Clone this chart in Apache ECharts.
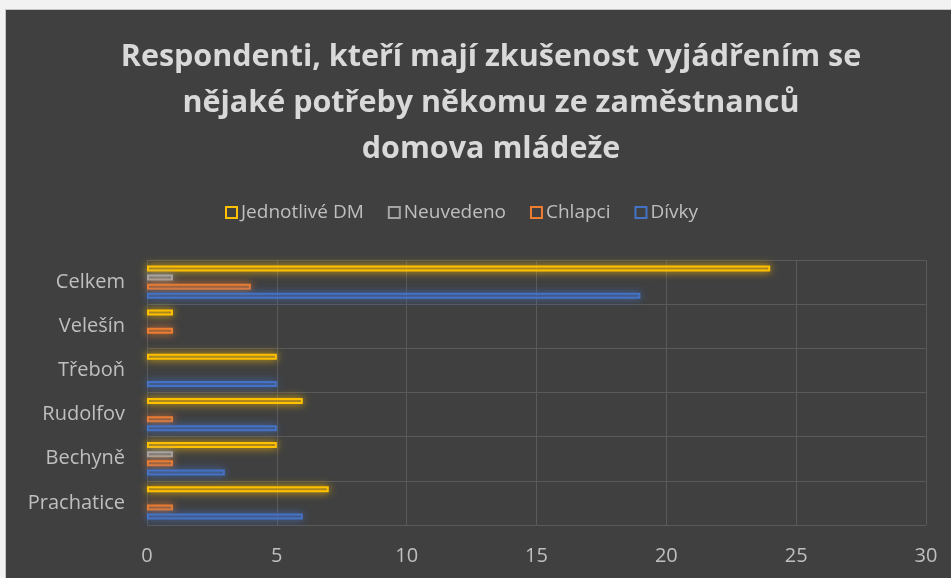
<!DOCTYPE html>
<html>
<head>
<meta charset="utf-8">
<script src="https://cdn.jsdelivr.net/npm/echarts@6/dist/echarts.min.js"></script>
<style>
  html, body { margin: 0; padding: 0; background: #f2f2f2; }
  #chart {
    position: absolute; left: 5px; top: 9px; width: 946px; height: 569px;
    border-left: 1px solid #c6c6c6; border-top: 1px solid #c6c6c6;
    background: #404040;
  }
</style>
</head>
<body>
<div id="chart"></div>
<script>
// kategorie zdola nahoru (jako v Excelu)
const categories = ["Prachatice", "Bechyně", "Rudolfov", "Třeboň", "Velešín", "Celkem"];
const jednotliveDM = [7, 5, 6, 5, 1, 24];
const neuvedeno = [0, 1, 0, 0, 0, 1];
const chlapci = [1, 1, 1, 0, 1, 4];
const divky = [6, 3, 5, 5, 0, 19];
const xTicks = [0, 5, 10, 15, 20, 25, 30];

const titleText = "Respondenti, kteří mají zkušenost vyjádřením se\nnějaké potřeby někomu ze zaměstnanců\ndomova mládeže";
const font = "'Open Sans', 'Noto Sans', sans-serif";

// barvy Office, pořadí shora dolů v každé skupině
const seriesDefs = [
  { name: "Jednotlivé DM", data: jednotliveDM, rgb: "255,192,0" },
  { name: "Neuvedeno", data: neuvedeno, rgb: "165,165,165" },
  { name: "Chlapci", data: chlapci, rgb: "237,125,49" },
  { name: "Dívky", data: divky, rgb: "68,114,196" },
];

const chart = echarts.init(document.getElementById("chart"));

const option = {
  backgroundColor: "#404040",
  animation: false,
  title: {
    text: titleText,
    left: 480,
    top: 19,
    textAlign: "center",
    textStyle: {
      color: "#d9d9d9",
      fontFamily: font,
      fontWeight: "bold",
      fontSize: 30.5,
      lineHeight: 46,
    },
  },
  legend: {
    top: 188,
    left: 214,
    itemWidth: 11,
    itemHeight: 11,
    itemGap: 24,
    icon: "rect",
    data: seriesDefs.map((s) => ({
      name: s.name,
      itemStyle: {
        color: "transparent",
        borderColor: "rgb(" + s.rgb + ")",
        borderWidth: 2,
        shadowBlur: 0,
      },
    })),
    textStyle: { color: "#bfbfbf", fontFamily: font, fontSize: 19, padding: [0, 0, 0, -1] },
  },
  grid: { left: 141, right: 26, top: 250, bottom: 54, containLabel: false },
  xAxis: {
    type: "value",
    min: xTicks[0],
    max: xTicks[xTicks.length - 1],
    interval: xTicks[1] - xTicks[0],
    axisLine: { show: false },
    axisTick: { show: false },
    axisLabel: { color: "#bfbfbf", fontFamily: font, fontSize: 20, margin: 21 },
    splitLine: { show: true, lineStyle: { color: "#5a5a5a", width: 1 } },
  },
  yAxis: {
    type: "category",
    data: categories,
    axisLine: { show: false },
    axisTick: { show: false },
    axisLabel: { color: "#bfbfbf", fontFamily: font, fontSize: 20, margin: 22 },
    splitLine: { show: true, lineStyle: { color: "#5a5a5a", width: 1 } },
  },
  series: seriesDefs.map((s) => ({
    name: s.name,
    type: "bar",
    barWidth: 6,
    barGap: "52%",
    data: s.data.map((v) => (v === 0 ? null : v)),
    itemStyle: {
      color: "rgba(" + s.rgb + ",0.3)",
      borderColor: "rgb(" + s.rgb + ")",
      borderWidth: 2,
      shadowBlur: 9,
      shadowColor: "rgba(" + s.rgb + ",1)",
    },
  })),
};

chart.setOption(option);
</script>
</body>
</html>
